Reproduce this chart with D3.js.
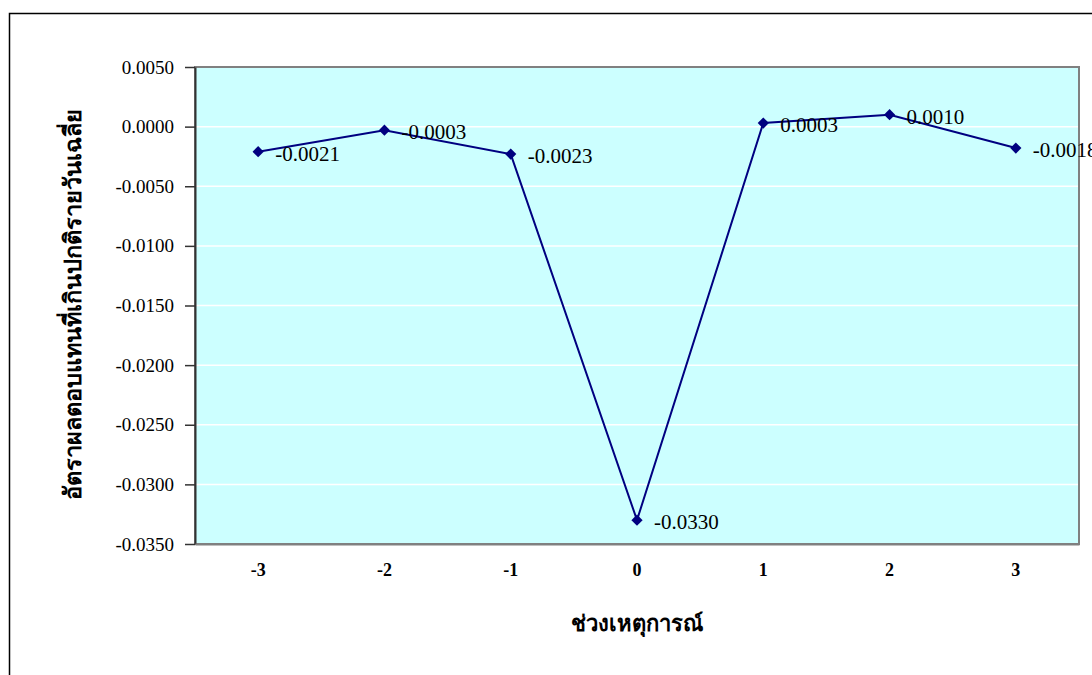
<!DOCTYPE html>
<html>
<head>
<meta charset="utf-8">
<script src="https://cdn.jsdelivr.net/npm/d3@7"></script>
<style>
html,body{margin:0;padding:0;background:#fff;overflow:hidden;}
svg{display:block;}
</style>
</head>
<body>
<svg id="chart" width="1092" height="675"></svg>
<script>
const categories = ["-3", "-2", "-1", "0", "1", "2", "3"];
const values = [-0.0021, -0.0003, -0.0023, -0.0330, 0.0003, 0.0010, -0.0018];
const valueLabels = ["-0.0021", "-0.0003", "-0.0023", "-0.0330", "0.0003", "0.0010", "-0.0018"];
const yTicks = [0.005, 0.0, -0.005, -0.010, -0.015, -0.020, -0.025, -0.030, -0.035];
const xTitle = "ช่วงเหตุการณ์";
const yTitle = "อัตราผลตอบแทนที่เกินปกติรายวันเฉลี่ย";

const svg = d3.select("#chart");
const serif = "'Liberation Serif','Times New Roman',serif";

// outer chart border
svg.append("rect").attr("x", 9.5).attr("y", 13.5).attr("width", 1200).attr("height", 800)
  .attr("fill", "#fff").attr("stroke", "#000").attr("stroke-width", 1.5);

const plot = {left: 195, top: 67, right: 1079, bottom: 544};

const x = d3.scaleBand().domain(categories).range([plot.left, plot.right]);
const y = d3.scaleLinear().domain([-0.035, 0.005]).range([plot.bottom, plot.top]);

// plot background
svg.append("rect").attr("x", plot.left).attr("y", plot.top)
  .attr("width", plot.right - plot.left).attr("height", plot.bottom - plot.top)
  .attr("fill", "#CCFFFF");

// gridlines
svg.append("g").selectAll("line").data(yTicks.filter(t => t < 0.0049 && t > -0.0349)).join("line")
  .attr("x1", plot.left).attr("x2", plot.right)
  .attr("y1", d => y(d)).attr("y2", d => y(d))
  .attr("stroke", "#fff").attr("stroke-width", 1.5);

// plot border (gray)
svg.append("rect").attr("x", plot.left).attr("y", plot.top)
  .attr("width", plot.right - plot.left).attr("height", plot.bottom - plot.top)
  .attr("fill", "none").attr("stroke", "#808080").attr("stroke-width", 2);

// y axis
const yAxis = d3.axisLeft(y).tickValues(yTicks).tickFormat(d3.format(".4f")).tickSize(10).tickSizeOuter(0);
const gy = svg.append("g").attr("transform", `translate(${plot.left},0)`).call(yAxis);
gy.select(".domain").attr("stroke", "#333").attr("stroke-width", 2);
gy.selectAll(".tick line").attr("stroke", "#333").attr("stroke-width", 1.5);
gy.selectAll(".tick text").attr("font-family", serif).attr("font-size", 19).attr("fill", "#000").attr("x", -21)
  .text(d => d3.format(".4f")(d).replace("−", "-"));

// x axis
const xAxis = d3.axisBottom(x).tickSize(0).tickSizeOuter(0);
const gx = svg.append("g").attr("transform", `translate(0,${plot.bottom})`).call(xAxis);
gx.select(".domain").attr("stroke", "#808080").attr("stroke-width", 2);
gx.selectAll(".tick text").attr("font-family", serif).attr("font-size", 18).attr("font-weight", "bold")
  .attr("fill", "#000").attr("dy", 0).attr("y", 32);

// line
const pts = categories.map((c, i) => ({c, v: values[i], label: valueLabels[i]}));
const line = d3.line().x(d => x(d.c) + x.bandwidth() / 2).y(d => y(d.v));
svg.append("path").datum(pts).attr("d", line).attr("fill", "none")
  .attr("stroke", "#000080").attr("stroke-width", 2);

// markers
svg.append("g").selectAll("path").data(pts).join("path")
  .attr("d", d3.symbol().type(d3.symbolDiamond2).size(80))
  .attr("transform", d => `translate(${x(d.c) + x.bandwidth() / 2},${y(d.v)})`)
  .attr("fill", "#000080");

// data labels
svg.append("g").selectAll("text").data(pts).join("text")
  .attr("x", d => x(d.c) + x.bandwidth() / 2 + 17)
  .attr("y", d => y(d.v) + 9)
  .attr("font-family", serif).attr("font-size", 21).attr("fill", "#000")
  .text(d => d.label);

// axis titles
svg.append("text").attr("x", 637).attr("y", 631).attr("text-anchor", "middle")
  .attr("font-family", serif).attr("font-weight", "bold").attr("font-size", 22)
  .text(xTitle);
svg.append("text").attr("transform", "translate(81,304) rotate(-90)").attr("text-anchor", "middle")
  .attr("font-family", serif).attr("font-weight", "bold").attr("font-size", 23.5)
  .text(yTitle);
</script>
</body>
</html>
